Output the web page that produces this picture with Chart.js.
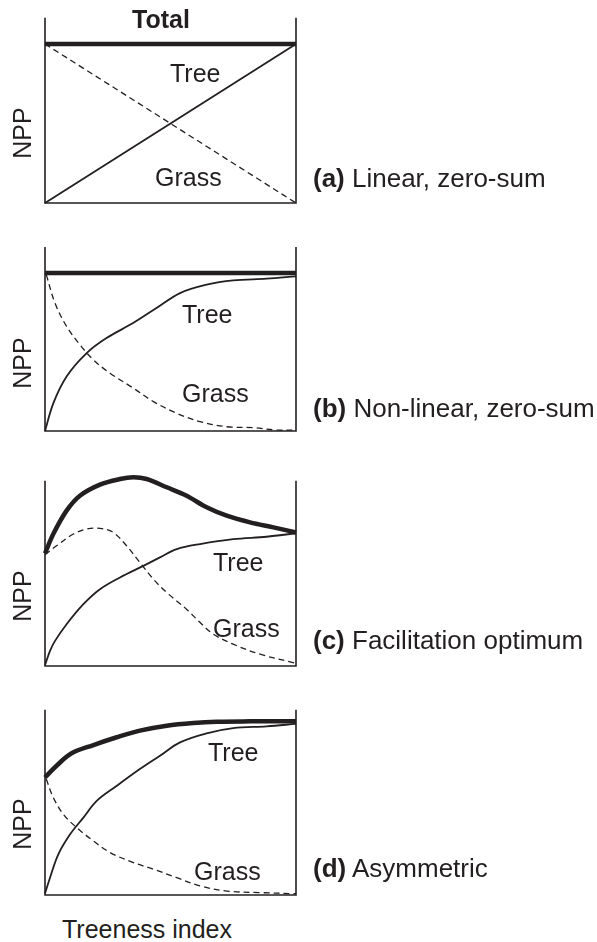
<!DOCTYPE html>
<html lang="en">
<head>
  <meta charset="UTF-8" />
  <title>NPP against treeness index</title>
  <script src="https://cdn.jsdelivr.net/npm/chart.js"></script>
  <style>
    body {
      margin: 0;
      background: #fff;
    }

    .page {
      position: relative;
      width: 597px;
      height: 942px;
      font-family: Arial, "Liberation Sans", sans-serif;
      color: #231f20;
    }

    .page canvas {
      position: absolute;
      left: 0;
    }

    .lbl {
      position: absolute;
      font-size: 25px;
      line-height: 1;
      white-space: nowrap;
    }

    .side {
      font-size: 26px;
    }

    .npp {
      transform: translate(-50%, -50%) rotate(-90deg);
    }
  </style>
</head>

<body>
  <div class="page" id="page">
    <canvas id="panelA"></canvas>
    <canvas id="panelB"></canvas>
    <canvas id="panelC"></canvas>
    <canvas id="panelD"></canvas>
  </div>

  <script>
    // frame: left edge, bottom axis, right edge (in data units)
    const frameX = [0, 0, 1, 1];
    const frameY = [1.165, 0, 0, 1.165];

    // (a) Linear, zero-sum
    const totalA = [[0, 1], [1, 1]];
    const treeA = [[0, 0], [1, 1]];
    const grassA = [[0, 1], [1, 0]];

    // (b) Non-linear, zero-sum
    const totalB = [[0, 1], [1, 1]];
    const treeB = [[0, 0], [0.033, 0.175], [0.086, 0.345], [0.166, 0.493], [0.245, 0.588], [0.351, 0.683],
      [0.444, 0.778], [0.538, 0.873], [0.644, 0.926], [0.75, 0.953], [0.883, 0.964], [1, 0.979]];
    const grassB = [[0.005, 0.99], [0.04, 0.809], [0.086, 0.662], [0.139, 0.546], [0.193, 0.45], [0.259, 0.366],
      [0.352, 0.271], [0.432, 0.186], [0.525, 0.112], [0.618, 0.059], [0.724, 0.027], [0.83, 0.021],
      [0.923, 0.006], [1, 0.006]];

    // (c) Facilitation optimum
    const totalC = [[0, 0.708], [0.033, 0.83], [0.086, 0.977], [0.139, 1.071], [0.219, 1.141], [0.299, 1.176],
      [0.352, 1.187], [0.405, 1.176], [0.485, 1.124], [0.564, 1.071], [0.644, 0.998], [0.724, 0.945],
      [0.817, 0.903], [0.91, 0.872], [1, 0.84]];
    const treeC = [[0, 0.006], [0.02, 0.095], [0.04, 0.158], [0.086, 0.263], [0.153, 0.389], [0.219, 0.483],
      [0.299, 0.557], [0.392, 0.63], [0.458, 0.683], [0.525, 0.735], [0.618, 0.767], [0.75, 0.798],
      [0.883, 0.813], [1, 0.835]];
    const grassC = [[0, 0.7], [0.046, 0.756], [0.113, 0.83], [0.166, 0.861], [0.219, 0.866], [0.272, 0.84],
      [0.325, 0.756], [0.378, 0.651], [0.432, 0.546], [0.485, 0.462], [0.564, 0.357], [0.618, 0.273],
      [0.671, 0.2], [0.75, 0.137], [0.857, 0.074], [1, 0.017]];

    // (d) Asymmetric
    const totalD = [[0, 0.739], [0.046, 0.813], [0.106, 0.891], [0.193, 0.943], [0.286, 0.992], [0.378, 1.034],
      [0.485, 1.065], [0.591, 1.082], [0.684, 1.09], [0.817, 1.092], [1, 1.092]];
    const treeD = [[0, 0.01], [0.02, 0.109], [0.053, 0.256], [0.1, 0.382], [0.153, 0.487], [0.206, 0.592],
      [0.286, 0.687], [0.378, 0.792], [0.458, 0.876], [0.538, 0.96], [0.644, 1.017], [0.75, 1.05],
      [0.883, 1.061], [1, 1.076]];
    const grassD = [[0.005, 0.729], [0.033, 0.613], [0.073, 0.508], [0.126, 0.424], [0.193, 0.34], [0.259, 0.267],
      [0.352, 0.204], [0.432, 0.162], [0.525, 0.109], [0.618, 0.057], [0.724, 0.025], [0.857, 0.015],
      [1, 0.008]];

    const panelTitles = ['(a)', '(b)', '(c)', '(d)'];
    const panelNames = ['Linear, zero-sum', 'Non-linear, zero-sum', 'Facilitation optimum', 'Asymmetric'];

    const ink = '#231f20';

    // pixel rows where value 1 and value 0 sit, per panel
    const layout = [
      { id: 'panelA', top: 43.5, bottom: 202, curved: false },
      { id: 'panelB', top: 273, bottom: 431, curved: true },
      { id: 'panelC', top: 506.5, bottom: 665, curved: true },
      { id: 'panelD', top: 735.5, bottom: 894, curved: true }
    ];
    const series = [
      [totalA, treeA, grassA],
      [totalB, treeB, grassB],
      [totalC, treeC, grassC],
      [totalD, treeD, grassD]
    ];

    const toPts = arr => arr.map(p => ({ x: p[0], y: p[1] }));
    const framePts = frameX.map((x, i) => ({ x: x, y: frameY[i] }));

    layout.forEach((lay, i) => {
      const [total, tree, grass] = series[i];
      const canvas = document.getElementById(lay.id);
      const padTop = 40, padBottom = 10;
      canvas.width = 320;
      canvas.height = Math.round(lay.bottom - lay.top) + padTop + padBottom;
      canvas.style.top = (lay.top - padTop) + 'px';
      const t = lay.curved ? 0.35 : 0;

      new Chart(canvas, {
        type: 'line',
        data: {
          datasets: [
            { data: framePts, borderWidth: 1.6, clip: false, borderJoinStyle: 'miter', tension: 0 },
            { data: toPts(grass), borderWidth: 1.3, borderDash: [6, 4], clip: false, tension: t },
            { data: toPts(tree), borderWidth: 1.8, clip: false, tension: t },
            { data: toPts(total), borderWidth: 4.5, clip: false, tension: t }
          ]
        },
        options: {
          responsive: false,
          animation: false,
          layout: { padding: { left: 45, right: 24, top: padTop, bottom: padBottom } },
          scales: {
            x: { type: 'linear', min: 0, max: 1, display: false },
            y: { min: 0, max: 1, display: false }
          },
          elements: {
            point: { radius: 0 },
            line: { borderColor: ink, fill: false, capBezierPoints: false }
          },
          plugins: {
            legend: { display: false },
            tooltip: { enabled: false }
          }
        }
      });
    });

    // text labels, placed by baseline
    const page = document.getElementById('page');
    function addLabel(html, left, baseline, cls) {
      const d = document.createElement('div');
      d.className = 'lbl ' + (cls || '');
      d.innerHTML = html;
      d.style.left = left + 'px';
      const size = (cls || '').includes('side') ? 26 : 25;
      d.style.top = (baseline - size * 0.847) + 'px';
      page.appendChild(d);
      return d;
    }
    function addNpp(cx, cy) {
      const d = document.createElement('div');
      d.className = 'lbl npp';
      d.textContent = 'NPP';
      d.style.left = cx + 'px';
      d.style.top = cy + 'px';
      page.appendChild(d);
    }

    addLabel('<b>Total</b>', 132, 28);

    const treePos = [[170, 82], [182, 323], [213, 571], [208, 761]];
    const grassPos = [[155, 186], [182, 402], [213, 637], [194, 880]];
    const nppPos = [[22, 133], [22, 363], [22, 596], [22, 824]];
    const sideBase = [187, 417, 649, 877];

    for (let i = 0; i < 4; i++) {
      addLabel('Tree', treePos[i][0], treePos[i][1]);
      addLabel('Grass', grassPos[i][0], grassPos[i][1]);
      addNpp(nppPos[i][0], nppPos[i][1]);
      addLabel('<b>' + panelTitles[i] + '</b> ' + panelNames[i], 313, sideBase[i], 'side');
    }
    addLabel('Treeness index', 62, 938);
  </script>
</body>

</html>
